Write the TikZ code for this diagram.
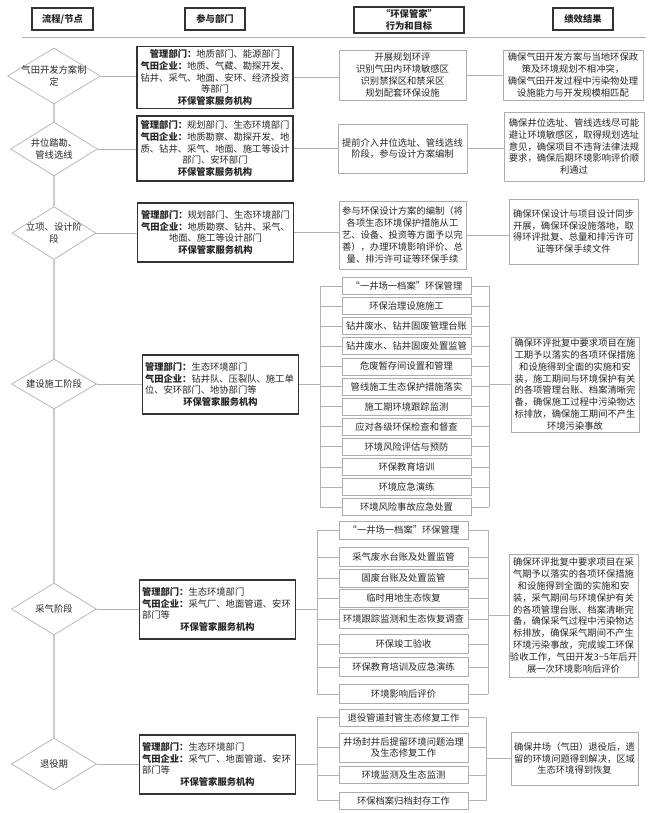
\documentclass[tikz,border=0pt]{standalone}
\usepackage{fontspec}
\setmainfont{Noto Sans CJK SC}
\XeTeXlinebreaklocale "zh"
\usetikzlibrary{positioning, shapes.geometric}

\begin{document}
\begin{tikzpicture}[
        x=1pt, y=-1pt,
        node distance=2.3pt,
        every node/.style={font=\fontsize{9.3}{11.8}\selectfont, text=black!85, inner sep=1pt},
        head/.style={draw=black!80, line width=1.1pt, font=\fontsize{9.3}{11.8}\selectfont\bfseries, align=center, minimum width=60pt, minimum height=22pt},
        stage/.style={diamond, draw=gray!55, line width=0.8pt, minimum width=85pt, minimum height=52pt, inner sep=0pt},
        dept/.style={draw=black!80, line width=1.1pt, text width=151pt, inner sep=2.5pt},
        goal/.style={draw=gray!65, line width=0.8pt, align=center},
        task/.style={draw=gray!65, line width=0.8pt, align=center, minimum width=129pt, minimum height=17pt},
        link/.style={draw=gray!60, line width=0.8pt},
        spine/.style={draw=gray!40, line width=1.6pt}
        ]
        \useasboundingbox (0,0) rectangle (652,813);

        % Header
        \node[head, minimum width=61pt] (h1) at (62.5,19) {流程/节点};
        \node[head] (h2) at (215,19) {参与部门};
        \node[head, minimum width=110pt, minimum height=26pt] (h3) at (409,20) {“环保管家”\\行为和目标};
        \node[head] (h4) at (583,19) {绩效结果};
        \draw[link] (22,37) -- (646,37);

        % Stages
        \node[stage, minimum width=93pt, minimum height=56pt, label={[align=center]center:气田开发方案制\\定}] (s1) at (54,76) {};
        \node[stage, minimum width=87pt, minimum height=54pt, label={[align=center]center:井位踏勘、\\管线选线}] (s2) at (54,149) {};
        \node[stage, minimum width=84pt, minimum height=53pt, label={[align=center]center:立项、设计阶\\段}] (s3) at (54,233) {};
        \node[stage, minimum height=50pt, label={center:建设施工阶段}] (s4) at (54,384) {};
        \node[stage, label={center:采气阶段}] (s5) at (54,609) {};
        \node[stage, label={center:退役期}] (s6) at (54,764) {};

        % Departments
        \node[dept, align=center, minimum height=61pt] (p1) at (215,77.5) {\textbf{管理部门：}地质部门、能源部门\\\textbf{气田企业：}地质、气藏、勘探开发、\\钻井、采气、地面、安环、经济投资\\等部门\\\textbf{环保管家服务机构}};
        \node[dept, align=center, minimum height=65pt] (p2) at (215,148.5) {\textbf{管理部门：}规划部门、生态环境部门\\\textbf{气田企业：}地质勘察、勘探开发、地\\质、钻井、采气、地面、施工等设计\\部门、安环部门\\\textbf{环保管家服务机构}};
        \node[dept, align=center, minimum height=59pt] (p3) at (215.5,232.5) {\textbf{管理部门：}规划部门、生态环境部门\\\textbf{气田企业：}地质勘察、钻井、采气、\\地面、施工等设计部门\\\textbf{环保管家服务机构}};
        \node[dept, align=left, minimum height=59pt] (p4) at (220.5,384.5) {\textbf{管理部门：}生态环境部门\\\textbf{气田企业：}钻井队、压裂队、施工单\\位、安环部门、地协部门等\par{\centering\textbf{环保管家服务机构}\par}};
        \node[dept, align=left, minimum height=59pt] (p5) at (217.5,609.5) {\textbf{管理部门：}生态环境部门\\\textbf{气田企业：}采气厂、地面管道、安环\\部门等\par{\centering\textbf{环保管家服务机构}\par}};
        \node[dept, align=left, minimum height=59pt] (p6) at (217.5,764.5) {\textbf{管理部门：}生态环境部门\\\textbf{气田企业：}采气厂、地面管道、安环\\部门等\par{\centering\textbf{环保管家服务机构}\par}};

        % Actions
        \node[goal, minimum width=127pt, minimum height=50pt] (m1) at (402.5,75) {开展规划环评\\识别气田内环境敏感区\\识别禁探区和禁采区\\规划配套环保设施};
        \node[goal, minimum width=129pt, minimum height=49pt] (m2) at (402.5,148.5) {提前介入井位选址、管线选线\\阶段，参与设计方案编制};
        \node[goal, minimum width=127pt, minimum height=68pt] (m3) at (402.5,235) {参与环保设计方案的编制（将\\各项生态环境保护措施从工\\艺、设备、投资等方面予以完\\善），办理环境影响评价、总\\量、排污许可证等环保手续};

        \node[task] (c1) at (406.5,286) {“一井场一档案”环保管理};
        \node[task] (c2) [below=of c1] {环保治理设施施工};
        \node[task] (c3) [below=of c2] {钻井废水、钻井固废管理台账};
        \node[task] (c4) [below=of c3] {钻井废水、钻井固废处置监管};
        \node[task] (c5) [below=of c4] {危废暂存间设置和管理};
        \node[task] (c6) [below=of c5] {管线施工生态保护措施落实};
        \node[task] (c7) [below=of c6] {施工期环境跟踪监测};
        \node[task] (c8) [below=of c7] {应对各级环保检查和督查};
        \node[task] (c9) [below=of c8] {环境风险评估与预防};
        \node[task] (c10) [below=of c9] {环保教育培训};
        \node[task] (c11) [below=of c10] {环境应急演练};
        \node[task] (c12) [below=of c11] {环境风险事故应急处置};

        \node[task, minimum height=18pt] (g1) at (403.5,530) {“一井场一档案”环保管理};
        \node[task, minimum height=19pt] (g2) at (403.5,557) {采气废水台账及处置监管};
        \node[task, minimum height=18pt] (g3) at (403.5,578) {固废台账及处置监管};
        \node[task, minimum height=18pt] (g4) at (403.5,598) {临时用地生态恢复};
        \node[task, minimum height=19pt] (g5) at (403.5,619) {环境跟踪监测和生态恢复调查};
        \node[task, minimum height=19pt] (g6) at (403.5,644) {环保竣工验收};
        \node[task, minimum height=19pt] (g7) at (403.5,667) {环保教育培训及应急演练};
        \node[task, minimum height=19pt] (g8) at (403.5,694) {环境影响后评价};

        \node[task] (e1) at (403.5,717.5) {退役管道封管生态修复工作};
        \node[task, minimum height=29pt] (e2) at (403.5,747.5) {井场封井后提留环境问题治理\\及生态修复工作};
        \node[task] (e3) at (403.5,775) {环境监测及生态监测};
        \node[task] (e4) at (403.5,800.5) {环保档案归档封存工作};

        % Results
        \node[goal, minimum width=140pt, minimum height=50pt] (r1) at (573,75) {确保气田开发方案与当地环保政\\策及环境规划不相冲突，\\确保气田开发过程中污染物处理\\设施能力与开发规模相匹配};
        \node[goal, minimum width=140pt, minimum height=69pt] (r2) at (574,146.5) {确保井位选址、管线选线尽可能\\避让环境敏感区，取得规划选址\\意见，确保项目不违背法律法规\\要求，确保后期环境影响评价顺\\利通过};
        \node[goal, minimum width=129pt, minimum height=65pt] (r3) at (573.5,231.5) {确保环保设计与项目设计同步\\开展，确保环保设施落地，取\\得环评批复、总量和排污许可\\证等环保手续文件};
        \node[goal, minimum width=128pt, minimum height=95pt] (r4) at (575,384.5) {确保环评批复中要求项目在施\\工期予以落实的各项环保措施\\和设施得到全面的实施和安\\装，施工期间与环境保护有关\\的各项管理台账、档案清晰完\\备，确保施工过程中污染物达\\标排放，确保施工期间不产生\\环境污染事故};
        \node[goal, minimum width=129pt, minimum height=123pt] (r5) at (573.5,615.5) {确保环评批复中要求项目在采\\气期予以落实的各项环保措施\\和设施得到全面的实施和安\\装，采气期间与环境保护有关\\的各项管理台账、档案清晰完\\备，确保采气过程中污染物达\\标排放，确保采气期间不产生\\环境污染事故，完成竣工环保\\验收工作，气田开发3\textasciitilde5年后开\\展一次环境影响后评价};
        \node[goal, minimum width=127pt, minimum height=53pt] (r6) at (574.5,758.5) {确保井场（气田）退役后，遗\\留的环境问题得到解决，区域\\生态环境得到恢复};

        % Lines
        \draw[spine] (s1) -- (s2);
        \draw[spine] (s2) -- (s3);
        \draw[spine] (s3) -- (s4);
        \draw[spine] (s4) -- (s5);
        \draw[spine] (s5) -- (s6);

        \draw[link] (s1.east) -- (s1.east -| p1.west);
        \draw[link] (p1.east) -- (p1.east -| m1.west);
        \draw[link] (m1.east) -- (m1.east -| r1.west);
        \draw[link] (s2.east) -- (s2.east -| p2.west);
        \draw[link] (p2.east) -- (p2.east -| m2.west);
        \draw[link] (m2.east) -- (m2.east -| r2.west);
        \draw[link] (s3.east) -- (s3.east -| p3.west);
        \draw[link] (p3.east) -- (p3.east -| m3.west);
        \draw[link] (m3.east) -- (m3.east -| r3.west);

        % construction
        \coordinate (cl1) at (320,0);
        \coordinate (cr1) at (489,0);
        \draw[link] (s4.east) -- (s4.east -| p4.west);
        \draw[link] (p4.east) -- (p4.east -| cl1);
        \draw[link] (c1.west -| cl1) -- (c12.west -| cl1);
        \draw[link] (c1.east -| cr1) -- (c12.east -| cr1);
        \draw[link] (r4.west -| cr1) -- (r4.west);
        \draw[link] (c1.west -| cl1) -- (c1.west) (c1.east) -- (c1.east -| cr1);
        \draw[link] (c2.west -| cl1) -- (c2.west) (c2.east) -- (c2.east -| cr1);
        \draw[link] (c3.west -| cl1) -- (c3.west) (c3.east) -- (c3.east -| cr1);
        \draw[link] (c4.west -| cl1) -- (c4.west) (c4.east) -- (c4.east -| cr1);
        \draw[link] (c5.west -| cl1) -- (c5.west) (c5.east) -- (c5.east -| cr1);
        \draw[link] (c6.west -| cl1) -- (c6.west) (c6.east) -- (c6.east -| cr1);
        \draw[link] (c7.west -| cl1) -- (c7.west) (c7.east) -- (c7.east -| cr1);
        \draw[link] (c8.west -| cl1) -- (c8.west) (c8.east) -- (c8.east -| cr1);
        \draw[link] (c9.west -| cl1) -- (c9.west) (c9.east) -- (c9.east -| cr1);
        \draw[link] (c10.west -| cl1) -- (c10.west) (c10.east) -- (c10.east -| cr1);
        \draw[link] (c11.west -| cl1) -- (c11.west) (c11.east) -- (c11.east -| cr1);
        \draw[link] (c12.west -| cl1) -- (c12.west) (c12.east) -- (c12.east -| cr1);

        % gas production
        \coordinate (cl2) at (317,0);
        \coordinate (cr2) at (488,0);
        \draw[link] (s5.east) -- (s5.east -| p5.west);
        \draw[link] (p5.east) -- (p5.east -| cl2);
        \draw[link] (g1.west -| cl2) -- (g8.west -| cl2);
        \draw[link] (g1.east -| cr2) -- (g8.east -| cr2);
        \draw[link] (r5.west -| cr2) -- (r5.west);
        \draw[link] (g1.west -| cl2) -- (g1.west) (g1.east) -- (g1.east -| cr2);
        \draw[link] (g2.west -| cl2) -- (g2.west) (g2.east) -- (g2.east -| cr2);
        \draw[link] (g3.west -| cl2) -- (g3.west) (g3.east) -- (g3.east -| cr2);
        \draw[link] (g4.west -| cl2) -- (g4.west) (g4.east) -- (g4.east -| cr2);
        \draw[link] (g5.west -| cl2) -- (g5.west) (g5.east) -- (g5.east -| cr2);
        \draw[link] (g6.west -| cl2) -- (g6.west) (g6.east) -- (g6.east -| cr2);
        \draw[link] (g7.west -| cl2) -- (g7.west) (g7.east) -- (g7.east -| cr2);
        \draw[link] (g8.west -| cl2) -- (g8.west) (g8.east) -- (g8.east -| cr2);

        % decommissioning
        \coordinate (cl3) at (317,0);
        \coordinate (cr3) at (486,0);
        \draw[link] (s6.east) -- (s6.east -| p6.west);
        \draw[link] (p6.east) -- (p6.east -| cl3);
        \draw[link] (e1.west -| cl3) -- (e4.west -| cl3);
        \draw[link] (e1.east -| cr3) -- (e4.east -| cr3);
        \draw[link] (r6.west -| cr3) -- (r6.west);
        \draw[link] (e1.west -| cl3) -- (e1.west) (e1.east) -- (e1.east -| cr3);
        \draw[link] (e2.west -| cl3) -- (e2.west) (e2.east) -- (e2.east -| cr3);
        \draw[link] (e3.west -| cl3) -- (e3.west) (e3.east) -- (e3.east -| cr3);
        \draw[link] (e4.west -| cl3) -- (e4.west) (e4.east) -- (e4.east -| cr3);
    \end{tikzpicture}
\end{document}
